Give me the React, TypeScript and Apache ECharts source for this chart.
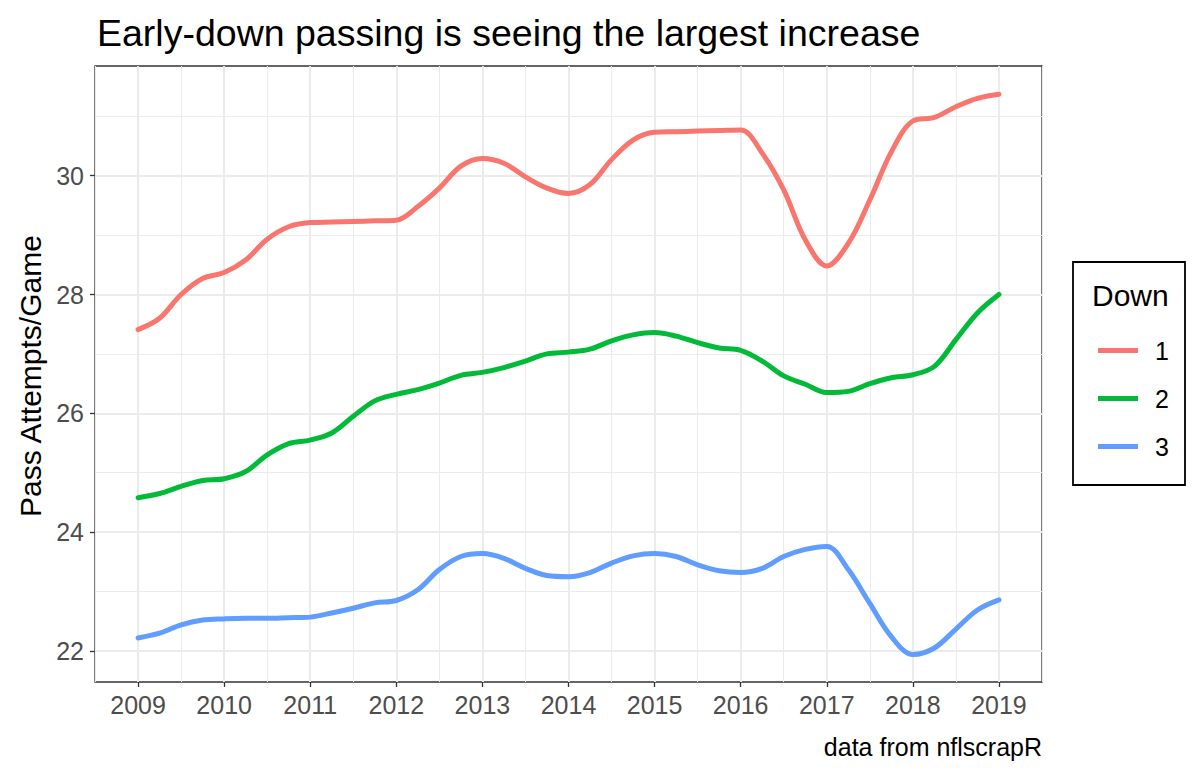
import React, { useEffect, useRef } from "react";
import * as echarts from "echarts";

const quarters: number[] = [
  2009, 2009.25, 2009.5, 2009.75, 2010, 2010.25, 2010.5, 2010.75,
  2011, 2011.25, 2011.5, 2011.75, 2012, 2012.25, 2012.5, 2012.75,
  2013, 2013.25, 2013.5, 2013.75, 2014, 2014.25, 2014.5, 2014.75,
  2015, 2015.25, 2015.5, 2015.75, 2016, 2016.25, 2016.5, 2016.75,
  2017, 2017.25, 2017.5, 2017.75, 2018, 2018.25, 2018.5, 2018.75, 2019,
];

const down1: number[] = [
  27.41, 27.6, 28.0, 28.27, 28.37, 28.58, 28.93, 29.14,
  29.21, 29.22, 29.23, 29.24, 29.25, 29.48, 29.79, 30.16,
  30.29, 30.21, 29.98, 29.79, 29.7, 29.85, 30.27, 30.6,
  30.73, 30.74, 30.75, 30.76, 30.77, 30.38, 29.76, 28.92,
  28.48, 28.86, 29.59, 30.4, 30.92, 30.98, 31.16, 31.3, 31.37,
];

const down2: number[] = [
  24.58, 24.65, 24.77, 24.87, 24.9, 25.02, 25.3, 25.49,
  25.55, 25.67, 25.95, 26.21, 26.32, 26.4, 26.51, 26.64,
  26.69, 26.77, 26.88, 27.0, 27.03, 27.08, 27.22, 27.32,
  27.36, 27.3, 27.19, 27.1, 27.06, 26.88, 26.63, 26.49,
  26.35, 26.37, 26.5, 26.6, 26.65, 26.79, 27.24, 27.69, 28.0,
];

const down3: number[] = [
  22.22, 22.3, 22.44, 22.52, 22.54, 22.55, 22.55, 22.56,
  22.57, 22.64, 22.72, 22.81, 22.85, 23.03, 23.37, 23.59,
  23.64, 23.56, 23.39, 23.27, 23.25, 23.32, 23.48, 23.6,
  23.64, 23.59, 23.45, 23.35, 23.32, 23.39, 23.59, 23.71,
  23.76, 23.37, 22.8, 22.24, 21.94, 22.05, 22.37, 22.69, 22.86,
];

const yearTicks: number[] = [2009, 2010, 2011, 2012, 2013, 2014, 2015, 2016, 2017, 2018, 2019];
const yMajorTicks: number[] = [22, 24, 26, 28, 30];
const yMinorTicks: number[] = [23, 25, 27, 29, 31];
const downLabels: string[] = ["1", "2", "3"];
const downColors: string[] = ["#F8766D", "#00BA38", "#619CFF"];

const FONT = "'Liberation Sans', Arial, Helvetica, sans-serif";

export default function App() {
  const ref = useRef<HTMLDivElement>(null);

  useEffect(() => {
    if (!ref.current) return;
    const chart = echarts.init(ref.current, undefined, { renderer: "svg" });
    const seriesValues = [down1, down2, down3];
    const xMin = 2008.5;
    const xMax = 2019.5;
    const yMin = 21.478;
    const yMax = 31.846;

    const option: any = {
      animation: false,
      backgroundColor: "#FFFFFF",
      textStyle: { fontFamily: FONT },
      title: {
        text: "Early-down passing is seeing the largest increase",
        left: 92,
        top: 9,
        textStyle: { fontFamily: FONT, fontSize: 37.5, fontWeight: "normal", color: "#000000" },
      },
      grid: {
        left: 95,
        top: 66,
        width: 947,
        height: 616,
        show: true,
        borderColor: "#333333",
        borderWidth: 1.3,
        backgroundColor: "transparent",
        containLabel: false,
      },
      legend: {
        orient: "vertical",
        left: 1093,
        top: 333,
        itemWidth: 40,
        itemHeight: 5,
        itemGap: 23,
        icon: "rect",
        data: downLabels,
        textStyle: { fontFamily: FONT, fontSize: 25, lineHeight: 25, color: "#000000", padding: [0, 0, 0, 12] },
        selectedMode: false,
      },
      xAxis: [
        {
          type: "value",
          min: xMin,
          max: xMax,
          axisLine: { show: false },
          axisTick: { show: true, customValues: yearTicks, length: 5, lineStyle: { color: "#333333", width: 1.3 } },
          axisLabel: {
            customValues: yearTicks,
            formatter: (v: number) => String(v),
            color: "#4D4D4D",
            fontSize: 25,
            fontFamily: FONT,
            margin: 10,
          },
          splitLine: { show: true, lineStyle: { color: "#EBEBEB", width: 2 } },
          z: 2,
        },
        {
          type: "value",
          min: xMin,
          max: xMax,
          interval: 0.5,
          axisLine: { show: false },
          axisTick: { show: false },
          axisLabel: { show: false },
          splitLine: { show: true, lineStyle: { color: "#EBEBEB", width: 1 } },
          z: 1,
        },
      ],
      yAxis: [
        {
          type: "value",
          min: yMin,
          max: yMax,
          axisLine: { show: false },
          axisTick: { show: true, customValues: yMajorTicks, length: 5, lineStyle: { color: "#333333", width: 1.3 } },
          axisLabel: {
            customValues: yMajorTicks,
            formatter: (v: number) => String(v),
            color: "#4D4D4D",
            fontSize: 25,
            fontFamily: FONT,
            margin: 11,
          },
          splitLine: { show: true, lineStyle: { color: "#EBEBEB", width: 2 } },
          z: 2,
        },
        {
          type: "value",
          min: yMin,
          max: yMax,
          axisLine: { show: false },
          axisTick: { show: false, customValues: yMinorTicks },
          axisLabel: { show: false, customValues: yMinorTicks },
          splitLine: { show: true, lineStyle: { color: "#EBEBEB", width: 1 } },
          z: 1,
        },
      ],
      series: seriesValues.map((vals, i) => ({
        name: downLabels[i],
        type: "line",
        xAxisIndex: 0,
        yAxisIndex: 0,
        data: quarters.map((q, j) => [q, vals[j]]),
        showSymbol: false,
        symbol: "none",
        smooth: 0.35,
        lineStyle: { color: downColors[i], width: 5, cap: "round" },
        itemStyle: { color: downColors[i] },
        z: 5,
      })),
      graphic: [
        {
          type: "text",
          x: 30,
          y: 376,
          rotation: Math.PI / 2,
          style: {
            text: "Pass Attempts/Game",
            font: `30px ${FONT}`,
            fill: "#000000",
            textAlign: "center",
            textVerticalAlign: "middle",
          },
        },
        {
          type: "text",
          x: 1042,
          y: 747,
          style: {
            text: "data from nflscrapR",
            font: `25px ${FONT}`,
            fill: "#000000",
            textAlign: "right",
            textVerticalAlign: "middle",
          },
        },
        {
          type: "rect",
          shape: { x: 1073, y: 262, width: 112, height: 223 },
          style: { fill: "transparent", stroke: "#000000", lineWidth: 1.8 },
          z: 0,
        },
        {
          type: "text",
          x: 1092,
          y: 295,
          style: {
            text: "Down",
            font: `30px ${FONT}`,
            fill: "#000000",
            textAlign: "left",
            textVerticalAlign: "middle",
          },
        },
      ],
    };

    chart.setOption(option);
    return () => chart.dispose();
  }, []);

  return (
    <div
      ref={ref}
      style={{ position: "absolute", left: 0, top: 0, width: 1200, height: 775 }}
    />
  );
}
